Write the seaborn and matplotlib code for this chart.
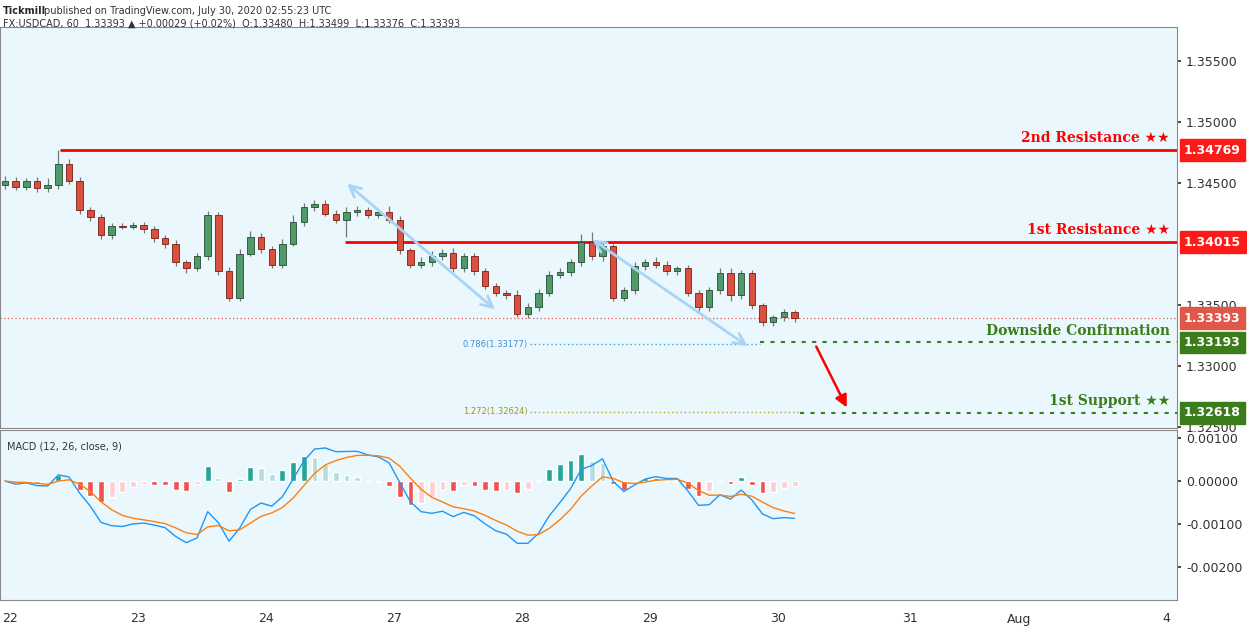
import numpy as np
import pandas as pd
import matplotlib
matplotlib.use("Agg")
import matplotlib.pyplot as plt
import seaborn as sns

# ---- data (2-hour candles) ----
closes = [1.3452,1.3447,1.3452,1.3446,1.3448,1.3466,1.3452,1.3428,1.3422,1.3407,
          1.3415,1.3414,1.3416,1.3412,1.3405,1.3400,1.3385,1.3380,1.3390,1.3424,
          1.3378,1.3356,1.3392,1.3406,1.3396,1.3383,1.3400,1.3418,1.3430,1.3433,
          1.3425,1.3420,1.3426,1.3428,1.3424,1.3426,1.3420,1.3395,1.3383,1.3385,
          1.3390,1.3393,1.3380,1.3390,1.3378,1.3366,1.3360,1.3358,1.3343,1.3348,
          1.3360,1.3375,1.3377,1.3385,1.3402,1.3390,1.3398,1.3356,1.3362,1.3382,
          1.3385,1.3383,1.3378,1.3380,1.3360,1.3348,1.3362,1.3376,1.3358,1.3376,
          1.3350,1.3336,1.3340,1.3344,1.33393]
first_open = 1.3448
wick_up = [4,3,2,3,6,11,4,3,2,3, 2,2,2,2,3,2,3,2,3,3, 2,3,4,5,3,2,4,6,4,3,
           3,3,4,3,2,3,5,3,2,4, 4,3,4,3,3,2,2,2,4,4, 3,3,3,3,6,8,4,2,3,3,
           3,4,3,2,3,2,3,4,4,3, 3,2,2,3,2]
wick_dn = [3,3,3,3,3,3,3,3,3,3, 3,2,2,3,3,3,3,4,2,3, 3,3,3,2,3,3,3,2,3,3,
           2,3,14,3,3,3,3,3,3,3, 3,3,3,3,3,3,3,3,3,4, 3,3,3,3,3,3,4,3,3,3,
           3,3,3,3,3,3,3,3,5,3, 3,3,3,3,3]
day_ticks = [0, 1, 2, 3, 4, 5, 6, 7.03, 7.88, 9.03]
day_labels = ["22", "23", "24", "27", "28", "29", "30", "31", "Aug", "4"]
price_ticks = [1.355, 1.350, 1.345, 1.335, 1.330, 1.325]
macd_ticks = [0.001, 0, -0.001, -0.002]
levels = {"2nd Resistance ★★": 1.34769, "1st Resistance ★★": 1.34015,
          "Downside Confirmation": 1.33193, "1st Support ★★": 1.32618}
current = 1.33393
fib_786 = 1.33177
fib_1272 = 1.32624

px = lambda p: (p - 10) / 128.0  # pixel->day coordinate helper for annotations

n = len(closes)
opens = [first_open] + closes[:-1]
highs = [max(o, c) + u * 1e-4 for o, c, u in zip(opens, closes, wick_up)]
lows = [min(o, c) - d * 1e-4 for o, c, d in zip(opens, closes, wick_dn)]
xs = np.array([px(5 + i * 10.67) for i in range(n)])
df = pd.DataFrame({"x": xs, "o": opens, "h": highs, "l": lows, "c": closes})

s = df["c"]
macd = s.ewm(span=6, adjust=False).mean() - s.ewm(span=13, adjust=False).mean()
sig = macd.ewm(span=5, adjust=False).mean()
hist = macd - sig
df["macd"], df["sig"], df["hist"] = macd, sig, hist

sns.set_theme(style="white")
bg = "#eaf8fe"
fig = plt.figure(figsize=(12.47, 6.33), dpi=100)
fig.patch.set_facecolor("white")
W, H = 1247, 633
ax = fig.add_axes([0, 1 - 428 / H, 1177 / W, (428 - 27) / H])
ax2 = fig.add_axes([0, 1 - 600 / H, 1177 / W, (600 - 430) / H], sharex=ax)
for a in (ax, ax2):
    a.set_facecolor(bg)
    a.yaxis.tick_right()
    for sp in a.spines.values():
        sp.set_color("#888888"); sp.set_linewidth(0.8)
    a.tick_params(axis="y", labelsize=9, colors="#333333", length=3)
xl = (px(0), px(1177))
ax.set_xlim(*xl)

up_c, dn_c = "#4f9a6a", "#d9503f"
bw = 6.5 / 128
for _, r in df.iterrows():
    col = up_c if r.c >= r.o else dn_c
    ax.vlines(r.x, r.l, r.h, color="#777777", lw=0.9, zorder=2)
    ax.bar(r.x, max(abs(r.c - r.o), 0.00003), bottom=min(r.o, r.c), width=bw,
           color=col, edgecolor="#2a4a30" if col == up_c else "#7a1d12", lw=0.6, zorder=3)

ax.set_ylim(1.32492, 1.35779)
ax.set_yticks(price_ticks)
ax.yaxis.set_major_formatter(matplotlib.ticker.FormatStrFormatter("%.5f"))
ax.tick_params(axis="x", labelbottom=False, length=0)

ax.hlines(levels["2nd Resistance ★★"], px(60), xl[1], color="#ff0000", lw=2)
ax.hlines(levels["1st Resistance ★★"], px(345), xl[1], color="#ff0000", lw=2)
ax.hlines(levels["Downside Confirmation"], px(760), xl[1], color="#3a7d1a", lw=1.5, ls=(0, (2, 3)))
ax.hlines(levels["1st Support ★★"], px(800), xl[1], color="#3a7d1a", lw=1.5, ls=(0, (2, 3)))
ax.hlines(current, xl[0], xl[1], color="#e0574a", lw=0.9, ls=(0, (1, 2)))
ax.hlines(fib_786, px(530), px(760), color="#3fa6d8", lw=1, ls=(0, (1, 2)))
ax.hlines(fib_1272, px(530), px(800), color="#b8a522", lw=1, ls=(0, (1, 2)))
ax.text(px(528), fib_786, "0.786(1.33177)", fontsize=6, color="#3f8fd0", ha="right", va="center")
ax.text(px(528), fib_1272, "1.272(1.32624)", fontsize=6, color="#a39220", ha="right", va="center")

lab_style = [("2nd Resistance ★★", "#ff0000"), ("1st Resistance ★★", "#ff0000"),
             ("Downside Confirmation", "#3a7d1a"), ("1st Support ★★", "#3a7d1a")]
for name, col in lab_style:
    ax.text(px(1170), levels[name] + 0.0004, name, color=col, fontsize=10,
            fontweight="bold", ha="right", va="bottom", family=["DejaVu Serif", "DejaVu Sans"])
boxes = [(levels["2nd Resistance ★★"], "#ff1a1a"), (levels["1st Resistance ★★"], "#ff1a1a"),
         (current, "#e0574a"), (levels["Downside Confirmation"], "#3a7d1a"),
         (levels["1st Support ★★"], "#3a7d1a")]
for val, col in boxes:
    ax.text(1.006, val, f"{val:.5f}", transform=ax.get_yaxis_transform(), color="white",
            fontsize=9, fontweight="bold", va="center", ha="left",
            bbox=dict(boxstyle="square,pad=0.35", fc=col, ec=col))

ax.annotate("", xy=(px(848), 1.32640), xytext=(px(815), 1.33180),
            arrowprops=dict(arrowstyle="-|>", color="#ff0000", lw=1.8, mutation_scale=18))
for (x0, y0, x1, y1) in [(345, 1.3451, 497, 1.3345), (590, 1.3405, 750, 1.3315)]:
    ax.annotate("", xy=(px(x1), y1), xytext=(px(x0), y0),
                arrowprops=dict(arrowstyle="<->", color="#a9d4f5", lw=2, mutation_scale=20))

colors = []
prev = 0
for h in hist:
    if h >= 0:
        colors.append("#26a69a" if h >= prev else "#b2dfdb")
    else:
        colors.append("#ef5350" if h <= prev else "#ffcdd2")
    prev = h
ax2.bar(df.x, df["hist"], width=bw * 0.9, color=colors, zorder=2)
sns.lineplot(data=df, x="x", y="macd", ax=ax2, color="#2196f3", lw=1, zorder=3)
sns.lineplot(data=df, x="x", y="sig", ax=ax2, color="#ff7f0e", lw=1, zorder=3)
ax2.set_ylim(-0.00277, 0.00119)
ax2.set_yticks(macd_ticks)
ax2.yaxis.set_major_formatter(matplotlib.ticker.FormatStrFormatter("%.5f"))
ax2.set_xlabel(""); ax2.set_ylabel("")
ax2.text(0.006, 0.93, "MACD (12, 26, close, 9)", transform=ax2.transAxes, fontsize=7, color="#333333", va="top")
ax2.set_xticks(day_ticks)
ax2.set_xticklabels(day_labels)
ax2.tick_params(axis="x", labelsize=9, colors="#333333", length=3, pad=6)
ax2.set_xlim(*xl)

fig.text(3 / W, 1 - 6 / H, "Tickmill", fontsize=7, fontweight="bold", va="top")
fig.text(44 / W, 1 - 6 / H, "published on TradingView.com, July 30, 2020 02:55:23 UTC", fontsize=7, va="top", color="#333333")
fig.text(3 / W, 1 - 18 / H, "FX:USDCAD, 60  1.33393 ▲ +0.00029 (+0.02%)  O:1.33480  H:1.33499  L:1.33376  C:1.33393",
         fontsize=7, va="top", color="#333333")
fig.savefig("out.png", dpi=100)
